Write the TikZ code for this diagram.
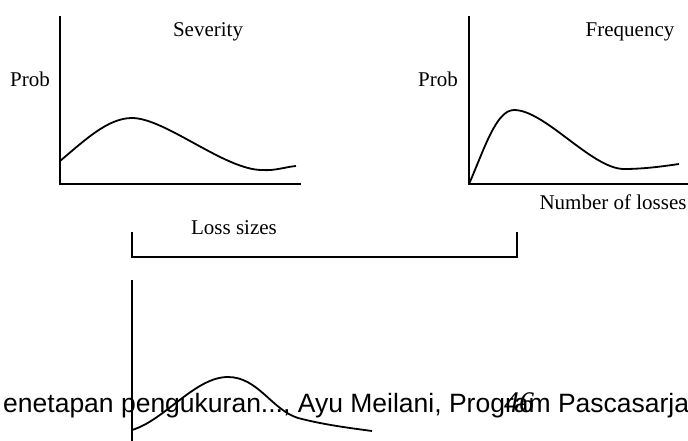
\documentclass[tikz,border=0pt]{standalone}
\usepackage{fontspec}
\setmainfont{Liberation Serif}
\newfontfamily\pagefont{Liberation Sans}

\begin{document}
\begin{tikzpicture}[
    x=1pt, y=-1pt,
    font=\fontsize{21}{24}\selectfont,
    axis/.style={line width=1.9pt},
    curve/.style={line width=1.8pt},
    lbl/.style={inner sep=0pt, anchor=base}]

  \useasboundingbox (0,0) rectangle (688,441);
  \clip (0,0) rectangle (688,441);

  % severity
  \draw[axis] (60,16) -- (60,184) -- (301,184);
  \draw[curve] (60,161) .. controls (85,140) and (108,118) .. (132,118)
               .. controls (165,118) and (225,170) .. (262,170)
               .. controls (275,171) and (285,167) .. (296,166);
  \node[lbl] (sevtitle) at (208,37) {Severity};
  \node[lbl] (sevprob)  at (30,87) {Prob};

  % frequency
  \draw[axis] (469,16) -- (469,184) -- (688,184);
  \draw[curve] (469,184) .. controls (484,150) and (496,110) .. (514,110)
               .. controls (545,110) and (592,169) .. (624,169)
               .. controls (645,169) and (665,166) .. (679,164);
  \node[lbl] (freqtitle) at (630,37) {Frequency};
  \node[lbl] (freqprob)  at (438,87) {Prob};
  \node[lbl] (numlosses) at (613,209) {Number of losses};

  % bracket
  \draw[axis] (132,232) -- (132,257) -- (517,257) -- (517,232);
  \node[lbl] (losssizes) at (234,234) {Loss sizes};

  % aggregate
  \draw[axis] (132,280) -- (132,445);
  \draw[curve] (132,430) .. controls (165,420) and (195,377) .. (228,377)
               .. controls (258,377) and (272,410) .. (298,418)
               .. controls (325,425) and (350,428) .. (372,431);

  % page footer
  \node[lbl, anchor=base west] (footer) at (3,412)
       {\pagefont\fontsize{26.5}{30}\selectfont enetapan pengukuran..., Ayu Meilani, Program Pascasarja};
  \node[lbl, anchor=base west] (pageno) at (504,412)
       {\fontsize{30}{32}\selectfont\itshape 46};
\end{tikzpicture}
\end{document}
